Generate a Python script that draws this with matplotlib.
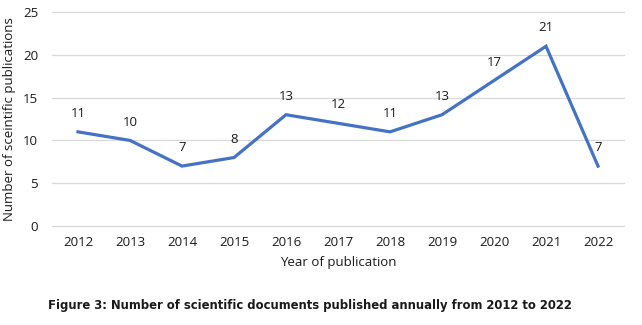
import matplotlib
matplotlib.use("Agg")
import matplotlib.pyplot as plt

years = ["2012", "2013", "2014", "2015", "2016", "2017", "2018", "2019", "2020", "2021", "2022"]
counts = [11, 10, 7, 8, 13, 12, 11, 13, 17, 21, 7]
yticks = [0, 5, 10, 15, 20, 25]

plt.rcParams['font.family'] = ['Open Sans', 'DejaVu Sans']

fig = plt.figure(figsize=(6.42, 3.25), dpi=100)
ax = fig.add_axes([0.081, 0.3046, 0.891, 0.6584])

x = list(range(len(years)))
ax.plot(x, counts, color="#4472C4", lw=2.3, solid_joinstyle="miter", zorder=3)
for xi, v in zip(x, counts):
    ax.annotate(str(v), (xi, v), xytext=(0, 8.5), textcoords="offset points",
                ha="center", va="bottom", fontsize=9.5, color="#1a1a1a")

ax.set_xlim(-0.5, len(years) - 0.5)
ax.set_ylim(0, 25)
ax.set_yticks(yticks)
ax.set_xticks(x)
ax.set_xticklabels(years)
ax.grid(axis="y", color="#d9d9d9", lw=0.9)
for gl in ax.get_ygridlines():
    gl.set_clip_on(False)
ax.set_axisbelow(True)
for s in ax.spines.values():
    s.set_visible(False)
ax.tick_params(axis="both", length=0, labelsize=9.5, colors="#1a1a1a", pad=7)
ax.tick_params(axis="y", pad=10)
ax.set_xlabel("Year of publication", fontsize=9.5, color="#1a1a1a", labelpad=5)
ax.set_ylabel("Number of sceintific publications", fontsize=9.5, color="#1a1a1a", labelpad=5)

fig.text(0.483, 0.06, "Figure 3: Number of scientific documents published annually from 2012 to 2022",
         ha="center", va="center", fontsize=8.4, fontweight="bold", color="#1a1a1a",
         family=["DejaVu Sans"])

fig.savefig("out.png", dpi=100)
